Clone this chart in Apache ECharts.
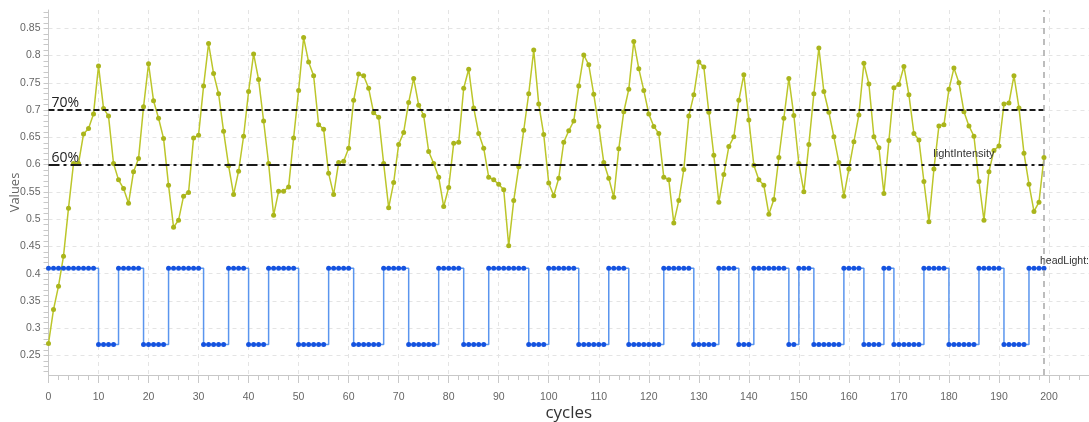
<!DOCTYPE html>
<html>
<head>
<meta charset="utf-8">
<script src="https://cdn.jsdelivr.net/npm/echarts@6/dist/echarts.min.js"></script>
<style>
html, body { margin: 0; padding: 0; background: #fff; }
#chart { width: 1089px; height: 422px; }
</style>
</head>
<body>
<div id="chart"></div>
<script>
// light sensor reading per cycle (0..199)
const lightIntensity = [
  0.272, 0.334, 0.377, 0.432, 0.520, 0.602, 0.602, 0.656, 0.666, 0.693,
  0.781, 0.703, 0.689, 0.602, 0.572, 0.556, 0.529, 0.587, 0.611, 0.706,
  0.785, 0.717, 0.685, 0.648, 0.562, 0.485, 0.498, 0.542, 0.549, 0.649,
  0.654, 0.744, 0.822, 0.767, 0.730, 0.661, 0.598, 0.545, 0.588, 0.652,
  0.734, 0.803, 0.756, 0.680, 0.602, 0.507, 0.551, 0.551, 0.559, 0.649,
  0.736, 0.833, 0.788, 0.763, 0.673, 0.665, 0.584, 0.545, 0.604, 0.606,
  0.630, 0.718, 0.766, 0.763, 0.740, 0.695, 0.687, 0.602, 0.521, 0.567,
  0.637, 0.659, 0.714, 0.758, 0.709, 0.690, 0.624, 0.602, 0.577, 0.523,
  0.558, 0.639, 0.641, 0.740, 0.775, 0.704, 0.657, 0.630, 0.577, 0.572,
  0.564, 0.554, 0.451, 0.534, 0.596, 0.663, 0.730, 0.810, 0.711, 0.655,
  0.566, 0.543, 0.575, 0.641, 0.662, 0.680, 0.744, 0.801, 0.783, 0.729,
  0.670, 0.604, 0.575, 0.540, 0.629, 0.697, 0.738, 0.826, 0.776, 0.736,
  0.693, 0.670, 0.657, 0.577, 0.572, 0.493, 0.534, 0.591, 0.689, 0.728,
  0.788, 0.779, 0.696, 0.617, 0.531, 0.582, 0.633, 0.651, 0.718, 0.765,
  0.682, 0.599, 0.572, 0.562, 0.509, 0.536, 0.613, 0.685, 0.758, 0.690,
  0.602, 0.550, 0.637, 0.730, 0.814, 0.734, 0.696, 0.651, 0.604, 0.542,
  0.592, 0.642, 0.691, 0.786, 0.748, 0.651, 0.631, 0.547, 0.644, 0.741,
  0.747, 0.780, 0.728, 0.657, 0.645, 0.569, 0.495, 0.592, 0.671, 0.673,
  0.738, 0.777, 0.750, 0.697, 0.671, 0.652, 0.569, 0.498, 0.587, 0.626,
  0.634, 0.711, 0.713, 0.763, 0.704, 0.621, 0.564, 0.514, 0.531, 0.613
];

// head light state per cycle (on = 0.41, off = 0.27)
const headLight = [
  0.41, 0.41, 0.41, 0.41, 0.41, 0.41, 0.41, 0.41, 0.41, 0.41,
  0.27, 0.27, 0.27, 0.27, 0.41, 0.41, 0.41, 0.41, 0.41, 0.27,
  0.27, 0.27, 0.27, 0.27, 0.41, 0.41, 0.41, 0.41, 0.41, 0.41,
  0.41, 0.27, 0.27, 0.27, 0.27, 0.27, 0.41, 0.41, 0.41, 0.41,
  0.27, 0.27, 0.27, 0.27, 0.41, 0.41, 0.41, 0.41, 0.41, 0.41,
  0.27, 0.27, 0.27, 0.27, 0.27, 0.27, 0.41, 0.41, 0.41, 0.41,
  0.41, 0.27, 0.27, 0.27, 0.27, 0.27, 0.27, 0.41, 0.41, 0.41,
  0.41, 0.41, 0.27, 0.27, 0.27, 0.27, 0.27, 0.27, 0.41, 0.41,
  0.41, 0.41, 0.41, 0.27, 0.27, 0.27, 0.27, 0.27, 0.41, 0.41,
  0.41, 0.41, 0.41, 0.41, 0.41, 0.41, 0.27, 0.27, 0.27, 0.27,
  0.41, 0.41, 0.41, 0.41, 0.41, 0.41, 0.27, 0.27, 0.27, 0.27,
  0.27, 0.27, 0.41, 0.41, 0.41, 0.41, 0.27, 0.27, 0.27, 0.27,
  0.27, 0.27, 0.27, 0.41, 0.41, 0.41, 0.41, 0.41, 0.41, 0.27,
  0.27, 0.27, 0.27, 0.27, 0.41, 0.41, 0.41, 0.41, 0.27, 0.27,
  0.27, 0.41, 0.41, 0.41, 0.41, 0.41, 0.41, 0.41, 0.27, 0.27,
  0.41, 0.41, 0.41, 0.27, 0.27, 0.27, 0.27, 0.27, 0.27, 0.41,
  0.41, 0.41, 0.41, 0.27, 0.27, 0.27, 0.27, 0.41, 0.41, 0.27,
  0.27, 0.27, 0.27, 0.27, 0.27, 0.41, 0.41, 0.41, 0.41, 0.41,
  0.27, 0.27, 0.27, 0.27, 0.27, 0.27, 0.41, 0.41, 0.41, 0.41,
  0.41, 0.27, 0.27, 0.27, 0.27, 0.27, 0.41, 0.41, 0.41, 0.41
];

const yTickLabels = [0.25, 0.3, 0.35, 0.4, 0.45, 0.5, 0.55, 0.6, 0.65, 0.7, 0.75, 0.8, 0.85];
const thresholds = [
  { value: 0.7, label: '70%' },
  { value: 0.6, label: '60%' }
];
const cursorCycle = 199;

// small ticks every 0.01 on the value axis
const yMinorTicks = [];
for (let v = 22; v <= 88; v++) yMinorTicks.push(v / 100);

const pairs = arr => arr.map((v, i) => [i, v]);

const chart = echarts.init(document.getElementById('chart'));
const fontFamily = '"Liberation Sans", sans-serif';

chart.setOption({
  animation: false,
  textStyle: { fontFamily: fontFamily },
  grid: { left: 48.5, right: 0, top: 10, bottom: 47, outerBoundsMode: 'none', containLabel: false },
  xAxis: {
    type: 'value',
    min: 0,
    max: 208,
    interval: 10,
    name: 'cycles',
    nameLocation: 'middle',
    nameGap: 30,
    nameMoveOverlap: false,
    nameTextStyle: { fontSize: 17, color: '#333', fontFamily: '"Open Sans", sans-serif' },
    axisLine: { lineStyle: { color: '#c8c8c8' } },
    axisTick: { length: 8, lineStyle: { color: '#c8c8c8' } },
    minorTick: { show: true, splitNumber: 5, length: 5, lineStyle: { color: '#c8c8c8' } },
    axisLabel: { showMaxLabel: false, margin: 17, fontSize: 10.5, color: '#666' },
    splitLine: { show: true, lineStyle: { color: '#e4e4e4', type: [4, 4] } }
  },
  yAxis: [
    {
      type: 'value',
      min: 0.214,
      max: 0.8836,
      name: 'Values',
      nameLocation: 'middle',
      nameGap: 27,
      nameMoveOverlap: false,
      nameTextStyle: { fontSize: 13, color: '#666', fontFamily: '"Open Sans", sans-serif' },
      axisLine: { show: true, lineStyle: { color: '#c8c8c8' } },
      axisTick: { show: true, length: 5, customValues: yMinorTicks, lineStyle: { color: '#c8c8c8' } },
      axisLabel: { customValues: yTickLabels, margin: 8, fontSize: 10.5, color: '#666' },
      splitLine: { show: false }
    },
    {
      type: 'value',
      min: 0.214,
      max: 0.8836,
      position: 'left',
      axisLine: { show: false },
      axisTick: { show: false, customValues: yTickLabels },
      axisLabel: { show: false, customValues: yTickLabels },
      splitLine: { show: true, lineStyle: { color: '#e4e4e4', type: [4, 4] } }
    }
  ],
  series: [
    {
      name: 'lightIntensity',
      type: 'line',
      data: pairs(lightIntensity),
      symbol: 'circle',
      symbolSize: 5,
      lineStyle: { color: '#bcc62a', width: 1.5 },
      itemStyle: { color: '#aab51c' },
      z: 3,
      markLine: {
        silent: true,
        symbol: 'none',
        data: thresholds.map((t, k) => [
          {
            coord: [0, t.value],
            lineStyle: { color: '#1a1a1a', width: 2, type: k === 0 ? [6, 3] : [11, 4, 3, 4] },
            label: {
              show: true, formatter: t.label, position: 'insideStartTop',
              distance: [3, 0], fontSize: 14, color: '#222', fontFamily: '"Open Sans", sans-serif'
            }
          },
          { coord: [cursorCycle, t.value] }
        ])
      },
      markPoint: {
        silent: true,
        symbol: 'circle',
        symbolSize: 0,
        data: [{ coord: [183, 0.62] }],
        label: { show: true, formatter: 'lightIntensity', fontSize: 11, color: '#333', position: 'inside' }
      }
    },
    {
      name: 'headLight',
      type: 'line',
      step: 'end',
      data: pairs(headLight),
      symbol: 'circle',
      symbolSize: 5,
      lineStyle: { color: '#5a95ee', width: 1.5 },
      itemStyle: { color: '#1553e0' },
      z: 3,
      endLabel: {
        show: true,
        formatter: 'headLight:',
        distance: 0,
        offset: [-4, -7],
        fontSize: 10.5,
        color: '#333'
      },
      markLine: {
        silent: true,
        symbol: 'none',
        label: { show: false },
        lineStyle: { color: '#a8a8a8', width: 1.5, type: [6, 5] },
        data: [{ xAxis: cursorCycle }]
      }
    }
  ]
});
</script>
</body>
</html>
